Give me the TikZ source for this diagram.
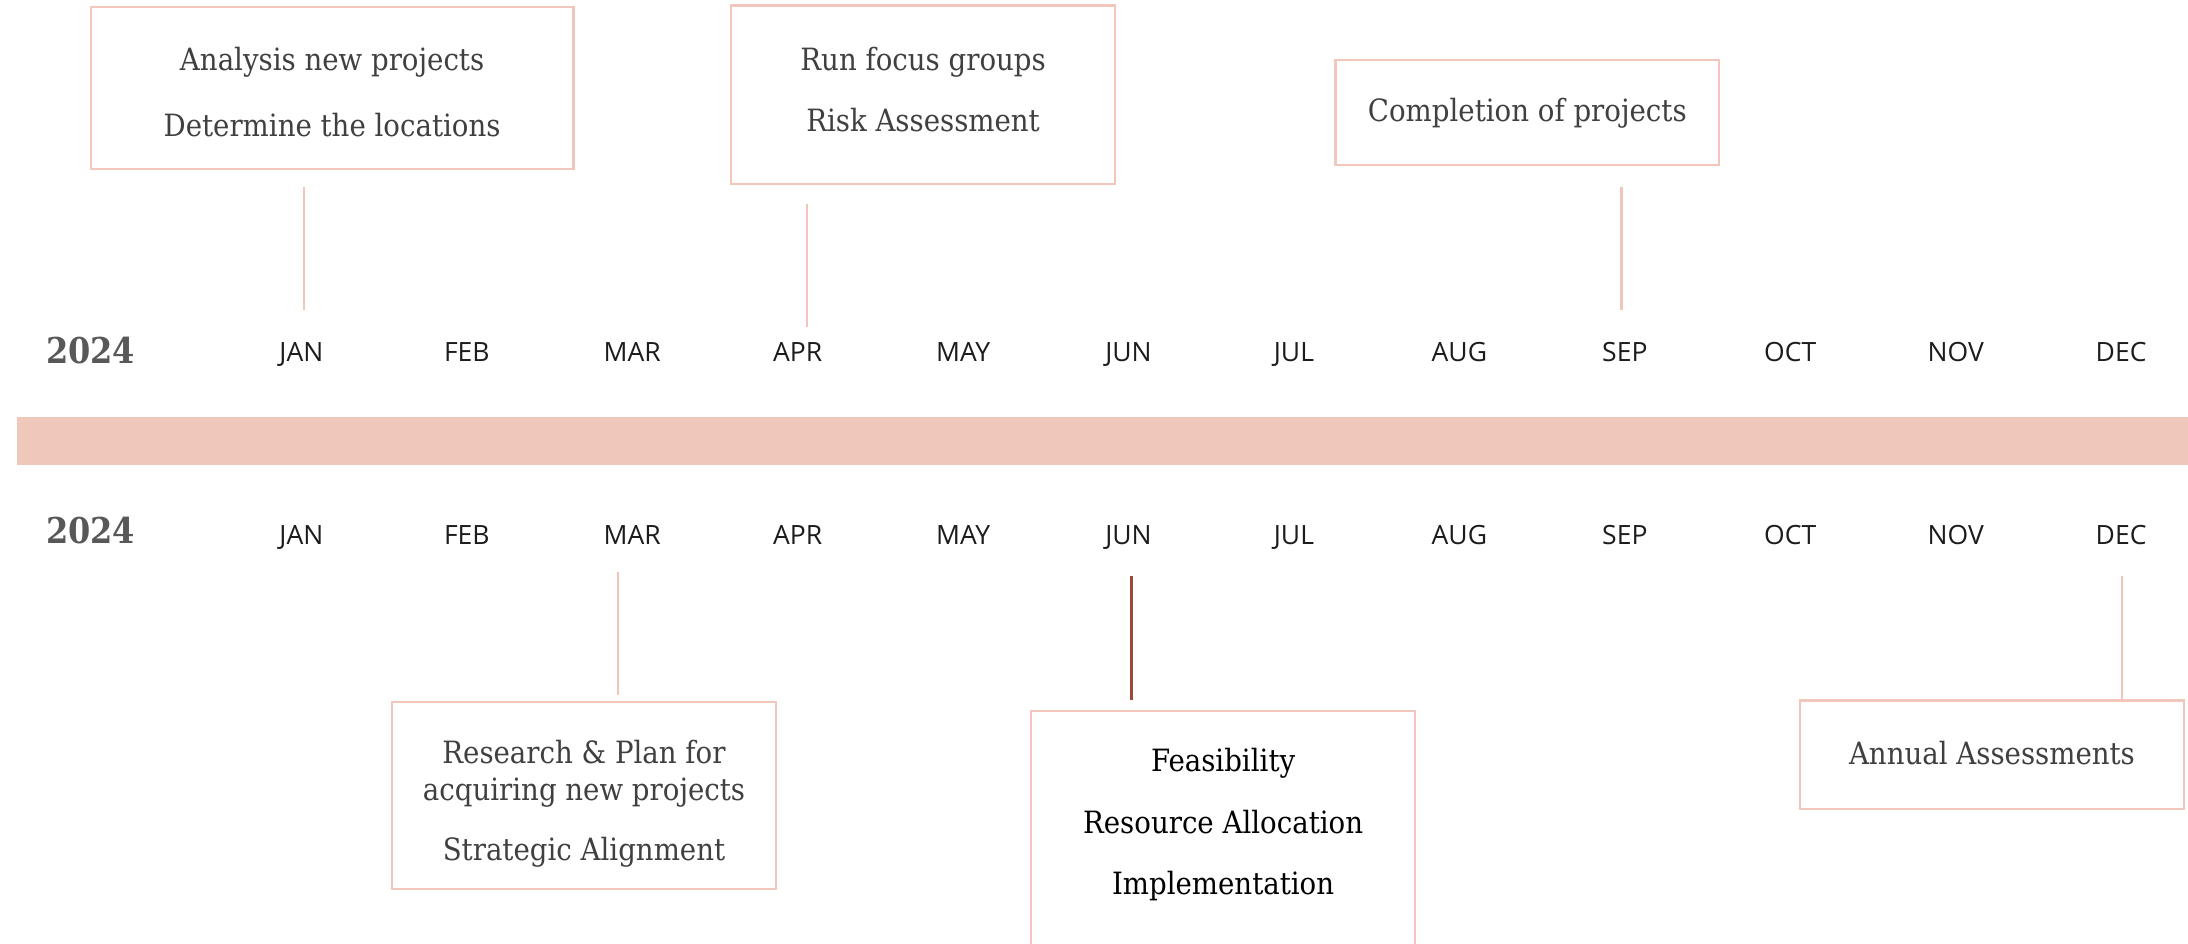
\documentclass[tikz,border=0pt]{standalone}
\usepackage{fontspec}
\setmainfont{DejaVu Serif Condensed}
\newfontfamily\monthfont{Open Sans}
\definecolor{bandpink}{RGB}{239,199,187}
\definecolor{linepink}{RGB}{242,198,186}
\definecolor{darkline}{RGB}{158,72,58}
\definecolor{boxtext}{RGB}{64,64,64}
\definecolor{yeargray}{RGB}{88,88,88}
\definecolor{monthtext}{RGB}{28,28,28}
\tikzset{
  month/.style={font=\monthfont\fontsize{19}{22}\selectfont, text=monthtext, inner sep=0pt, text height=14pt, text depth=0pt},
  year/.style={font=\bfseries\fontsize{25.5}{30}\selectfont, text=yeargray, inner sep=0pt, text height=19pt, text depth=0pt},
  evbox/.style={draw=linepink, line width=1.6pt, inner sep=0pt},
  evtext/.style={align=center, text=boxtext, font=\fontsize{22}{26}\selectfont, inner sep=0pt},
  tick/.style={draw=linepink, line width=1.5pt},
  darktick/.style={draw=darkline, line width=1.8pt}
}
\begin{document}
\begin{tikzpicture}[x=1pt,y=-1pt]
\useasboundingbox (0,0) rectangle (1568,676);
\clip (0,0) rectangle (1568,676);
\fill[white] (0,0) rectangle (1568,676);
% band
\fill[bandpink] (12,299) rectangle (1568,333);
% years
\node[year] (ytop) at (65,251) {2024};
\node[year] (ybot) at (65,380) {2024};
% months
\foreach \m [count=\i] in {JAN,FEB,MAR,APR,MAY,JUN,JUL,AUG,SEP,OCT,NOV,DEC} {
  \node[month] (t\i) at ({216+(\i-1)*118.55},252) {\m};
  \node[month] (b\i) at ({216+(\i-1)*118.55},383) {\m};
}
% top boxes
\node[evbox, minimum width=346pt, minimum height=116pt] (box1) at (238,63) {};
\node[evtext] (box1t) at (238,66) {Analysis new projects\\[21pt]Determine the locations};
\node[evbox, minimum width=275pt, minimum height=128pt] (box2) at (661.5,68) {};
\node[evtext] (box2t) at (661.5,64) {Run focus groups\\[18pt]Risk Assessment};
\node[evbox, minimum width=275pt, minimum height=75pt] (box3) at (1094.5,80.5) {};
\node[evtext] (box3t) at (1094.5,81) {Completion of projects};
% bottom boxes
\node[evbox, minimum width=275pt, minimum height=134pt] (box4) at (418.5,570) {};
\node[evtext] (box4t) at (418.5,576) {Research \& Plan for\\acquiring new projects\\[17pt]Strategic Alignment};
\node[evbox, minimum width=275pt, minimum height=200pt, anchor=north] (box5) at (876.5,509) {};
\node[evtext, text=black] (box5t) at (876.5,591) {Feasibility\\[18pt]Resource Allocation\\[18pt]Implementation};
\node[evbox, minimum width=275pt, minimum height=78pt] (box6) at (1427.5,541) {};
\node[evtext] (box6t) at (1427.5,540) {Annual Assessments};
% connectors
\coordinate (c1a) at (218,134); \coordinate (c1b) at (218,222);
\coordinate (c2a) at (578,146); \coordinate (c2b) at (578,234);
\coordinate (c3a) at (1162,134); \coordinate (c3b) at (1162,222);
\coordinate (c4a) at (443,410); \coordinate (c4b) at (443,498);
\coordinate (c5a) at (811,413); \coordinate (c5b) at (811,502);
\coordinate (c6a) at (1521,413); \coordinate (c6b) at (1521,501);
\draw[tick] (c1a) -- (c1b);
\draw[tick] (c2a) -- (c2b);
\draw[tick] (c3a) -- (c3b);
\draw[tick] (c4a) -- (c4b);
\draw[darktick] (c5a) -- (c5b);
\draw[tick] (c6a) -- (c6b);
\end{tikzpicture}
\end{document}
